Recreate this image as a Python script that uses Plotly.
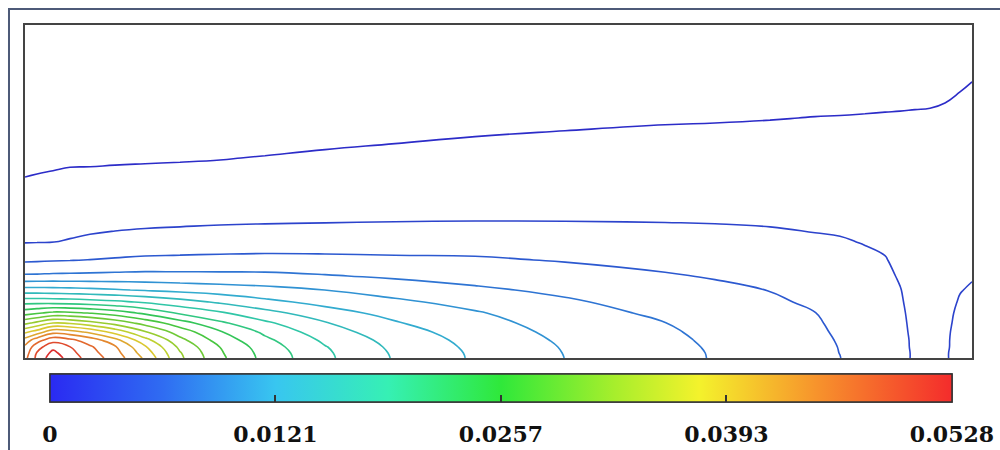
import numpy as np
import plotly.graph_objects as go

# horizontal / vertical sample positions of the field (domain units)
x_pos = [0, 12, 28, 45, 65, 90, 120, 155, 195, 240, 300, 370, 450, 540, 640,
         690, 745, 790, 815, 840, 860, 875, 890, 905, 920, 935, 947]
y_pos = [0, 5, 11, 18, 26, 35, 45, 56, 68, 82, 98, 116, 138, 165, 200, 240, 285, 333]

# field values, one list per x position (bottom -> top)
z_by_column = [
    [0.04425, 0.04368, 0.04298, 0.04100, 0.03700, 0.03188, 0.02650, 0.02168, 0.01600, 0.01035, 0.00708, 0.00490, 0.00408, 0.00309, 0.00180, 0.00033, 0, 0],
    [0.04813, 0.04770, 0.04650, 0.04388, 0.03865, 0.03315, 0.02718, 0.02168, 0.01600, 0.01038, 0.00718, 0.00493, 0.00415, 0.00318, 0.00193, 0.00048, 0, 0],
    [0.05150, 0.05068, 0.04928, 0.04650, 0.04168, 0.03500, 0.02813, 0.02155, 0.01593, 0.01050, 0.00730, 0.00498, 0.00423, 0.00328, 0.00205, 0.00068, 0, 0],
    [0.04895, 0.04830, 0.04755, 0.04553, 0.04105, 0.03460, 0.02793, 0.02138, 0.01578, 0.01053, 0.00740, 0.00513, 0.00428, 0.00338, 0.00218, 0.00080, 0, 0],
    [0.04635, 0.04590, 0.04535, 0.04380, 0.03948, 0.03340, 0.02738, 0.02103, 0.01558, 0.01060, 0.00755, 0.00535, 0.00435, 0.00340, 0.00220, 0.00083, 0, 0],
    [0.04393, 0.04340, 0.04280, 0.04080, 0.03663, 0.03158, 0.02628, 0.02053, 0.01523, 0.01068, 0.00775, 0.00560, 0.00440, 0.00348, 0.00225, 0.00085, 0, 0],
    [0.03958, 0.03880, 0.03785, 0.03583, 0.03275, 0.02905, 0.02448, 0.01970, 0.01478, 0.01075, 0.00798, 0.00583, 0.00448, 0.00353, 0.00230, 0.00088, 0, 0],
    [0.03298, 0.03268, 0.03195, 0.03070, 0.02883, 0.02613, 0.02213, 0.01850, 0.01428, 0.01070, 0.00805, 0.00600, 0.00455, 0.00360, 0.00235, 0.00093, 0, 0],
    [0.02805, 0.02780, 0.02748, 0.02643, 0.02525, 0.02295, 0.02035, 0.01713, 0.01378, 0.01065, 0.00813, 0.00618, 0.00465, 0.00368, 0.00243, 0.00100, 0, 0],
    [0.02423, 0.02408, 0.02370, 0.02305, 0.02198, 0.02045, 0.01835, 0.01565, 0.01325, 0.01058, 0.00818, 0.00628, 0.00473, 0.00378, 0.00258, 0.00120, 0, 0],
    [0.02048, 0.02038, 0.02013, 0.01953, 0.01865, 0.01768, 0.01603, 0.01425, 0.01249, 0.01018, 0.00808, 0.00635, 0.00480, 0.00393, 0.00278, 0.00145, 0, 0],
    [0.01728, 0.01718, 0.01695, 0.01658, 0.01600, 0.01520, 0.01415, 0.01298, 0.01145, 0.00963, 0.00790, 0.00638, 0.00488, 0.00403, 0.00295, 0.00170, 0.00033, 0],
    [0.01468, 0.01463, 0.01448, 0.01423, 0.01385, 0.01338, 0.01273, 0.01165, 0.01040, 0.00913, 0.00778, 0.00643, 0.00493, 0.00415, 0.00313, 0.00195, 0.00065, 0],
    [0.01248, 0.01243, 0.01233, 0.01213, 0.01185, 0.01145, 0.01095, 0.01033, 0.00950, 0.00848, 0.00735, 0.00623, 0.00493, 0.00420, 0.00325, 0.00215, 0.00093, 0],
    [0.01073, 0.01070, 0.01063, 0.01048, 0.01030, 0.01003, 0.00955, 0.00900, 0.00840, 0.00770, 0.00685, 0.00593, 0.00488, 0.00420, 0.00333, 0.00233, 0.00118, 0],
    [0.00985, 0.00983, 0.00975, 0.00963, 0.00945, 0.00920, 0.00888, 0.00848, 0.00798, 0.00733, 0.00658, 0.00573, 0.00485, 0.00420, 0.00335, 0.00238, 0.00130, 0.00015],
    [0.00883, 0.00880, 0.00875, 0.00865, 0.00853, 0.00835, 0.00813, 0.00783, 0.00745, 0.00688, 0.00623, 0.00548, 0.00478, 0.00415, 0.00338, 0.00245, 0.00145, 0.00035],
    [0.00798, 0.00798, 0.00793, 0.00788, 0.00778, 0.00768, 0.00753, 0.00718, 0.00680, 0.00633, 0.00583, 0.00523, 0.00468, 0.00410, 0.00338, 0.00253, 0.00158, 0.00055],
    [0.00753, 0.00748, 0.00745, 0.00738, 0.00728, 0.00715, 0.00698, 0.00675, 0.00648, 0.00613, 0.00568, 0.00513, 0.00463, 0.00408, 0.00338, 0.00255, 0.00165, 0.00068],
    [0.00660, 0.00660, 0.00655, 0.00653, 0.00645, 0.00635, 0.00623, 0.00608, 0.00588, 0.00563, 0.00530, 0.00493, 0.00450, 0.00400, 0.00335, 0.00258, 0.00173, 0.00083],
    [0.00590, 0.00590, 0.00588, 0.00585, 0.00580, 0.00575, 0.00565, 0.00555, 0.00543, 0.00528, 0.00508, 0.00475, 0.00438, 0.00390, 0.00330, 0.00260, 0.00183, 0.00098],
    [0.00535, 0.00535, 0.00533, 0.00533, 0.00528, 0.00525, 0.00520, 0.00513, 0.00505, 0.00488, 0.00465, 0.00440, 0.00408, 0.00368, 0.00318, 0.00260, 0.00195, 0.00125],
    [0.00483, 0.00483, 0.00480, 0.00478, 0.00475, 0.00470, 0.00465, 0.00458, 0.00450, 0.00440, 0.00428, 0.00413, 0.00393, 0.00365, 0.00325, 0.00263, 0.00193, 0.00118],
    [0.00455, 0.00455, 0.00455, 0.00453, 0.00450, 0.00448, 0.00443, 0.00438, 0.00430, 0.00420, 0.00410, 0.00398, 0.00380, 0.00355, 0.00318, 0.00263, 0.00203, 0.00138],
    [0.00488, 0.00488, 0.00485, 0.00485, 0.00483, 0.00480, 0.00475, 0.00468, 0.00458, 0.00445, 0.00433, 0.00415, 0.00393, 0.00365, 0.00323, 0.00270, 0.00210, 0.00146],
    [0.00538, 0.00538, 0.00535, 0.00533, 0.00530, 0.00523, 0.00518, 0.00508, 0.00496, 0.00480, 0.00460, 0.00438, 0.00410, 0.00375, 0.00333, 0.00283, 0.00226, 0.00168],
    [0.00563, 0.00563, 0.00560, 0.00558, 0.00553, 0.00545, 0.00535, 0.00525, 0.00510, 0.00493, 0.00473, 0.00450, 0.00423, 0.00389, 0.00345, 0.00295, 0.00239, 0.00179],
]

z_min, z_max = 0.0, 0.0528
level_start, level_end, level_step = 0.0025, 0.05, 0.0025
cbar_tick_labels = ["0", "0.0121", "0.0257", "0.0393", "0.0528"]

# colour bar scale (jet-like) and a slightly deeper variant for the thin contour lines
jet = [[0.0, '#2a2af2'], [0.125, '#2f6cf2'], [0.25, '#38c6f0'], [0.375, '#36f0b4'],
       [0.5, '#2fe83a'], [0.625, '#a6ee2c'], [0.72, '#f4f22c'], [0.85, '#f7932c'],
       [1.0, '#f42c2c']]
jet_lines = [[0.0, '#2c2cc8'], [0.125, '#2c62d2'], [0.25, '#32a8d4'], [0.375, '#30c8a4'],
             [0.5, '#34c444'], [0.625, '#92cc30'], [0.72, '#d8d230'], [0.85, '#e4822e'],
             [1.0, '#dc2e2e']]

z = np.array(z_by_column).T

fig = go.Figure()
fig.add_trace(go.Contour(
    x=x_pos, y=y_pos, z=z,
    autocontour=False,
    contours=dict(coloring='lines', start=level_start, end=level_end, size=level_step),
    line=dict(width=1.6, smoothing=1.3),
    colorscale=jet_lines, zmin=z_min, zmax=z_max, zauto=False,
    showscale=False, hoverinfo='skip'))

tick_pos = list(np.linspace(z_min, z_max, len(cbar_tick_labels)))
cb_geom = dict(orientation='h', x=0.5026, xanchor='center', y=-0.048,
               yanchor='top', len=902, lenmode='pixels', thickness=28,
               thicknessmode='pixels', xpad=0, ypad=0,
               outlinewidth=1.5, outlinecolor='#333333')

# colour bar with labels (label offset via invisible ticks)
fig.add_trace(go.Scatter(
    x=[None], y=[None], mode='markers', showlegend=False, hoverinfo='skip',
    marker=dict(color=[z_min], colorscale=jet, cmin=z_min, cmax=z_max, showscale=True,
                colorbar=dict(**cb_geom,
                              tickvals=tick_pos, ticktext=cbar_tick_labels,
                              ticks='outside', ticklen=13, tickwidth=1,
                              tickcolor='rgba(0,0,0,0)',
                              tickfont=dict(family='DejaVu Serif', size=22, color='#111111',
                                            weight='bold')))))
# same bar on top, carrying the short inner tick marks
fig.add_trace(go.Scatter(
    x=[None], y=[None], mode='markers', showlegend=False, hoverinfo='skip',
    marker=dict(color=[z_min], colorscale=jet, cmin=z_min, cmax=z_max, showscale=True,
                colorbar=dict(**cb_geom,
                              tickvals=tick_pos[1:-1], showticklabels=False,
                              ticks='inside', ticklen=7, tickwidth=1.5,
                              tickcolor='#333333'))))

axis_common = dict(showgrid=False, zeroline=False, showticklabels=False, ticks='',
                   showline=True, mirror=True, linecolor='#444444', linewidth=2)
fig.update_xaxes(range=[0, 947], **axis_common)
fig.update_yaxes(range=[0, 333], **axis_common)

fig.add_shape(type='rect', xref='paper', yref='paper',
              x0=-0.0169, x1=1.06, y0=-0.40, y1=1.048,
              line=dict(color='#4d5a78', width=2), fillcolor='rgba(0,0,0,0)', layer='below')

fig.update_layout(width=1000, height=450,
                  margin=dict(l=25, r=28, t=25, b=92, autoexpand=False),
                  paper_bgcolor='white', plot_bgcolor='white', showlegend=False)

fig.write_html("out.html")
